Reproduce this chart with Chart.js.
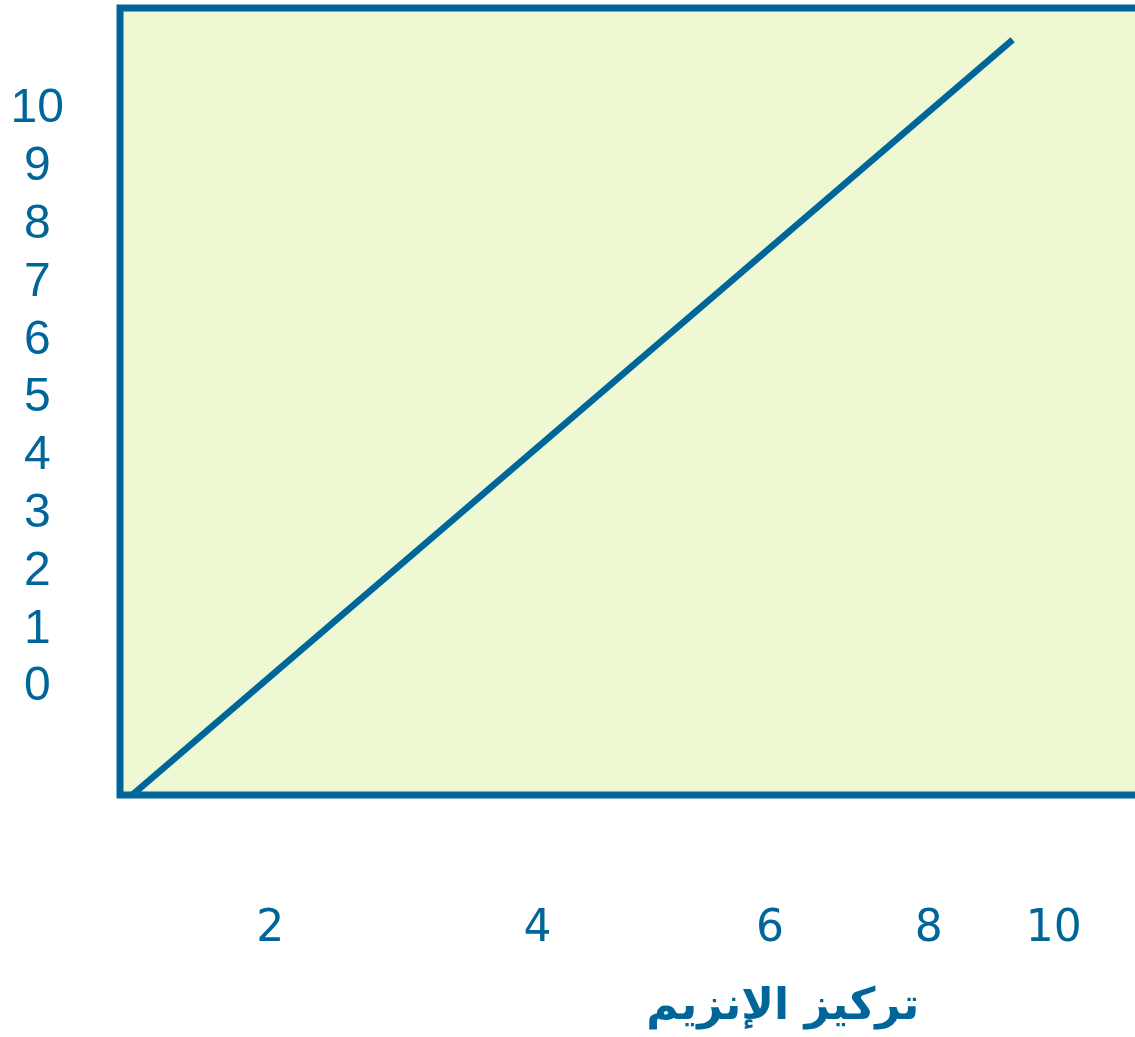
<!DOCTYPE html>
<html><head><meta charset="utf-8">
<script src="https://cdn.jsdelivr.net/npm/chart.js@4"></script>
<style>html,body{margin:0;padding:0;background:#fff;overflow:hidden}#wrap{width:1135px;height:1037px;position:relative}</style>
</head><body><div id="wrap"><canvas id="c"></canvas></div>
<script>
// ---- data ----
const yTickValues = [0,1,2,3,4,5,6,7,8,9,10];
const yTickLabels = ['0','1','2','3','4','5','6','7','8','9','10'];
const xTickValues = [1.61,4.47,6.96,8.66,10];
const xTickLabels = ['2','4','6','8','10'];
const lineX = [0.13, 9.56];
const lineY = [-1.92, 11.15];
const xRange = [0, 10.87];
const yRange = [-1.92, 11.70];
const xTitle = 'تركيز الإنزيم';

// ---- styles ----
const BLUE = '#006699';
const BG = '#EEF9D4';

const points = lineX.map((x,i)=>({x:x, y:lineY[i]}));

const boxPlugin = {
  id:'box',
  beforeDatasetsDraw(chart){
    const {ctx, chartArea:a} = chart;
    ctx.save();
    ctx.fillStyle = BG;
    ctx.fillRect(a.left, a.top, a.right - a.left + 20, a.bottom - a.top);
    ctx.restore();
  },
  afterDatasetsDraw(chart){
    const {ctx, chartArea:a} = chart;
    ctx.save();
    ctx.strokeStyle = BLUE;
    ctx.lineWidth = 7;
    ctx.lineJoin = 'miter';
    ctx.beginPath();
    ctx.moveTo(a.right + 20, a.top);
    ctx.lineTo(a.left, a.top);
    ctx.lineTo(a.left, a.bottom);
    ctx.lineTo(a.right + 20, a.bottom);
    ctx.stroke();
    // axis title
    ctx.fillStyle = BLUE;
    ctx.font = 'bold 44px "DejaVu Sans"';
    ctx.textAlign = 'center';
    ctx.textBaseline = 'middle';
    ctx.fillText(xTitle, a.left + (a.right - a.left) * 0.653, chart.height - 29);
    ctx.restore();
  }
};

new Chart(document.getElementById('c'), {
  type:'line',
  data:{ datasets:[{ data: points, borderColor: BLUE, borderWidth: 6.5, pointRadius: 0, borderCapStyle:'butt', fill:false, tension:0 }]},
  options:{
    responsive:true, maintainAspectRatio:false, animation:false, devicePixelRatio:1,
    layout:{ padding:{ top:8, left:0, right:0, bottom:0 } },
    plugins:{ legend:{display:false}, tooltip:{enabled:false} },
    scales:{
      x:{
        type:'linear', min:xRange[0], max:xRange[1],
        border:{display:false}, grid:{display:false, drawTicks:false},
        afterFit(s){ s.height = 242; s.paddingLeft = 0; s.paddingRight = 0; },
        afterBuildTicks(s){ s.ticks = xTickValues.map(v=>({value:v})); },
        ticks:{ autoSkip:false, maxRotation:0, minRotation:0, padding:108, color:BLUE,
          font:{ family:'"DejaVu Sans"', size:44 },
          callback:(v,i)=>xTickLabels[i] }
      },
      y:{
        type:'linear', min:yRange[0], max:yRange[1],
        border:{display:false}, grid:{display:false, drawTicks:false},
        afterFit(s){ s.width = 120; s.paddingTop = 0; s.paddingBottom = 0; },
        afterBuildTicks(s){ s.ticks = yTickValues.map(v=>({value:v})); },
        ticks:{ autoSkip:false, crossAlign:'center', padding:56, labelOffset:3, color:BLUE,
          font:{ family:'"Liberation Sans"', size:48 },
          callback:(v,i)=>yTickLabels[i] }
      }
    }
  },
  plugins:[boxPlugin]
});
</script>
</body></html>
